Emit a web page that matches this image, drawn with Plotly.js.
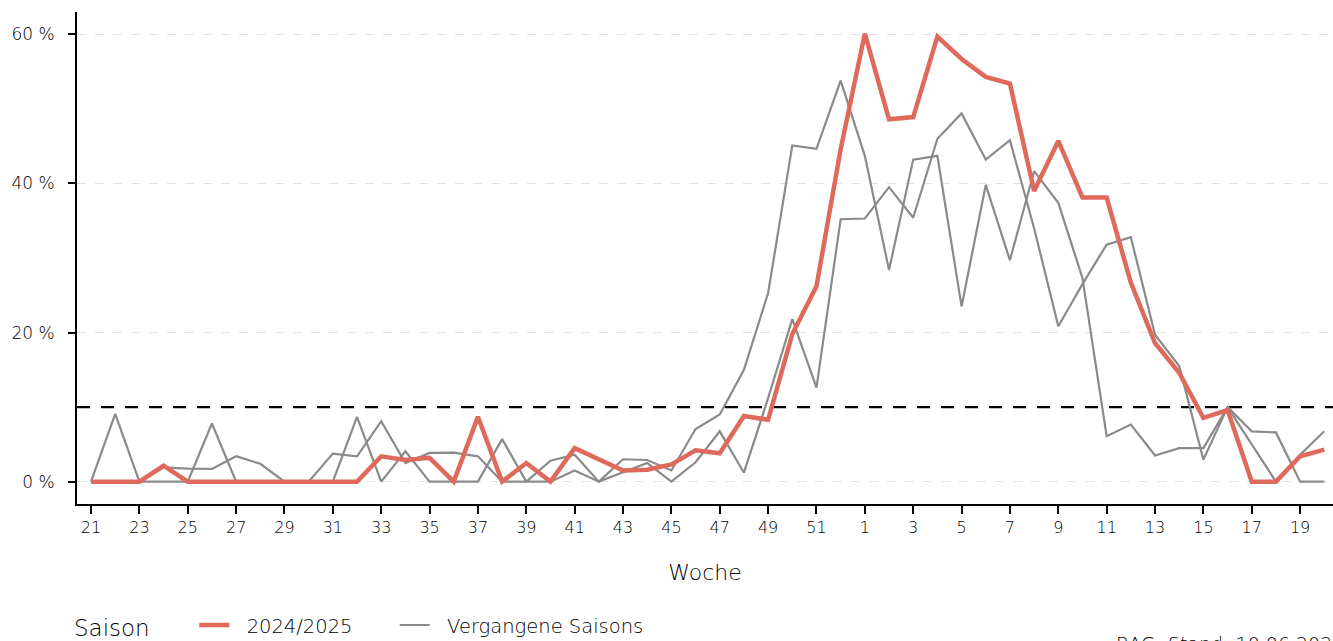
<!DOCTYPE html>
<html>
<head>
<meta charset="utf-8">
<script src="https://cdn.plot.ly/plotly-3.0.1.min.js"></script>
<style>
  html, body { margin: 0; padding: 0; background: #fff; }
  #myPlot { width: 1333px; height: 641px; }
</style>
</head>
<body>
<div id="myPlot"></div>
<script>
// Kalenderwochen der Saison (21 .. 52, 1 .. 20)
const weeks = ['21','22','23','24','25','26','27','28','29','30','31','32','33','34','35','36',
  '37','38','39','40','41','42','43','44','45','46','47','48','49','50','51','52',
  '1','2','3','4','5','6','7','8','9','10','11','12','13','14','15','16','17','18','19','20'];
const tickWeeks = ['21','23','25','27','29','31','33','35','37','39','41','43','45','47','49','51',
  '1','3','5','7','9','11','13','15','17','19'];

// Positivitaetsrate in %
const season2425 = [0,0,0,2.15,0,0,0,0,0,0,0,0,3.4,2.9,3.2,0,
  8.7,0,2.5,0,4.5,3.0,1.5,1.6,2.3,4.2,3.8,8.8,8.3,19.8,26.2,44.6,
  60.1,48.6,48.9,59.7,56.7,54.3,53.4,39.0,45.7,38.1,38.1,26.7,18.6,14.6,8.55,9.6,0,0,3.4,4.3];
const pastSeasonA = [0,9.1,0,1.9,1.75,1.7,3.4,2.4,0,0,3.76,3.4,8.1,2.5,3.85,3.9,
  3.4,0,0,2.8,3.6,0,3.0,2.9,1.5,7.07,9.0,15.0,25.3,45.1,44.65,53.8,
  43.7,28.4,43.2,43.7,23.5,39.8,29.7,41.65,37.4,27.3,6.1,7.65,3.5,4.5,4.5,10.0,6.75,6.6,0,0];
const pastSeasonB = [0,0,0,0,0,7.8,0,0,0,0,0,8.7,0,4.07,0,0,
  0,5.7,0,0,1.5,0,1.2,2.5,0,2.6,6.75,1.2,11.2,21.8,12.6,35.2,
  35.3,39.5,35.4,46.0,49.4,43.2,45.8,34.0,20.85,26.5,31.8,32.8,19.7,15.5,2.95,10.0,5.0,0,3.6,6.75];

const yTicks = [0, 20, 40, 60];
const yTickText = ['0 %', '20 %', '40 %', '60 %'];
const threshold = 10;

const fontFamily = '"DejaVu Sans", "Liberation Sans", sans-serif';
const red = '#df6a5c';
const grey = '#8a8a8a';
const ink = '#000';
const nb = '\u00a0';

const traceA = {x: weeks, y: pastSeasonA, mode: 'lines', name: nb + nb + 'Vergangene Saisons',
  line: {color: grey, width: 2.2}, legendgroup: 'past', showlegend: true, legendrank: 2};
const traceB = {x: weeks, y: pastSeasonB, mode: 'lines', name: 'Vergangene Saisons',
  line: {color: grey, width: 2.2}, legendgroup: 'past', showlegend: false};
const traceNow = {x: weeks, y: season2425, mode: 'lines',
  name: nb + nb + '2024/2025' + nb.repeat(6),
  line: {color: red, width: 4.5}, legendrank: 1};

const data = [traceA, traceB, traceNow];

const layout = {
  width: 1333,
  height: 641,
  margin: {l: 77, r: 0, t: 12, b: 137, autoexpand: false},
  paper_bgcolor: '#fff',
  plot_bgcolor: '#fff',
  font: {family: fontFamily, color: ink, weight: 300},
  showlegend: true,
  xaxis: {
    type: 'category',
    categoryorder: 'array',
    categoryarray: weeks,
    range: [-0.58, 51.36],
    tickvals: tickWeeks,
    ticktext: tickWeeks,
    showgrid: false,
    zeroline: false,
    showline: true,
    linecolor: '#000',
    linewidth: 2,
    ticks: 'outside',
    ticklen: 8,
    tickwidth: 2,
    tickcolor: '#000',
    tickfont: {size: 16, color: ink},
    automargin: false,
    title: {text: 'Woche', font: {size: 22, color: ink}, standoff: 28}
  },
  yaxis: {
    range: [-3, 63],
    tickvals: yTicks,
    ticktext: yTickText,
    showgrid: true,
    gridcolor: '#e2e2e2',
    griddash: 'dash',
    gridwidth: 1,
    zeroline: false,
    showline: true,
    linecolor: '#000',
    linewidth: 2,
    ticks: 'outside',
    ticklen: 7,
    tickwidth: 2,
    tickcolor: '#000',
    ticklabelstandoff: 10,
    automargin: false,
    tickfont: {size: 17, color: ink}
  },
  shapes: [{
    type: 'line', xref: 'paper', x0: 0, x1: 1, yref: 'y', y0: threshold, y1: threshold,
    line: {color: '#000', width: 2.2, dash: '13px,11px'}, layer: 'below'
  }],
  legend: {
    orientation: 'h',
    x: -0.004, xanchor: 'left',
    y: -0.207, yanchor: 'top',
    title: {text: 'Saison' + nb.repeat(5), side: 'left', font: {size: 23, color: ink}},
    font: {size: 19.5, color: ink},
    traceorder: 'normal'
  },
  annotations: [{
    text: 'BAG, Stand: 10.06.2025',
    xref: 'paper', yref: 'paper', x: 0.826, y: -0.258,
    xanchor: 'left', yanchor: 'top', showarrow: false,
    font: {size: 19, color: ink}
  }]
};

Plotly.newPlot('myPlot', data, layout, {displayModeBar: false, staticPlot: true});
</script>
</body>
</html>
